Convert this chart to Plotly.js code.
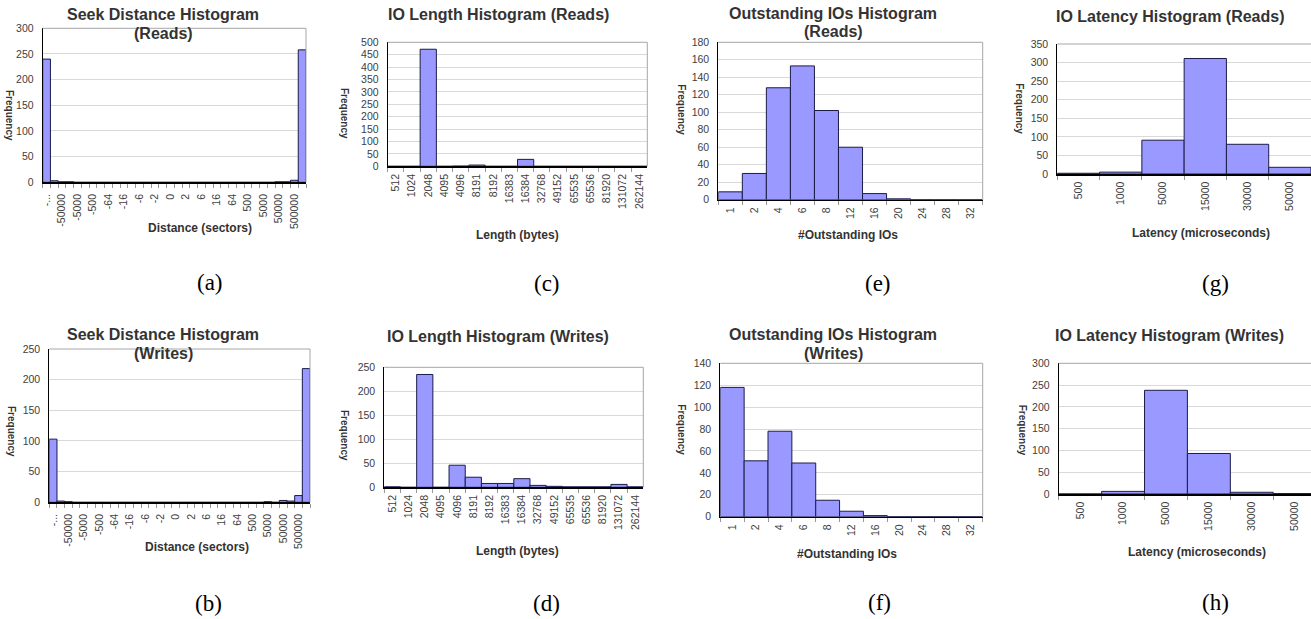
<!DOCTYPE html>
<html><head><meta charset="utf-8">
<script src="https://cdn.plot.ly/plotly-3.0.1.min.js"></script>
<style>html,body{margin:0;padding:0;background:#fff;overflow:hidden}</style>
</head><body><div id="chart" style="width:1311px;height:619px"></div>
<script>
// ---------------- data ----------------
const seekLabels = ["-...", "-50000", "-5000", "-500", "-64", "-16", "-6", "-2", "0", "2", "6", "16", "64", "500", "5000", "50000", "500000"];
const seekReads  = [240,3,1,1, 0,0,0,0,0,0,0,0,0,0, 0,0,0,0,0,0,0,0,0,0, 0,0,0,0,0,0, 1,1,4,258];
const seekWrites = [103,2,1, 0,0,0,0,0,0,0, 0,0,0,0,0,0,0,0,0,0, 0,0,0,0,0,0,0,0, 1,0,3,2,11,218];

const lenLabels = ["512","1024","2048","4095","4096","8191","8192","16383","16384","32768","49152","65535","65536","81920","131072","262144"];
const lenReads  = [0,0,472,0,1,5,0,0,28,0,0,0,0,0,0,0];
const lenWrites = [1,0,235,0,46,21,8,8,18,4,2,1,1,1,6,1];

const outLabels = ["1","2","4","6","8","12","16","20","24","28","32"];
const outReads  = [9,30,128,153,102,60,7,1,0,0,0];
const outWrites = [118,51,78,49,15,5,1,0,0,0,0];

const latLabels = ["500","1000","5000","15000","30000","50000"];
const latReads  = [2,5,91,311,80,18];
const latWrites = [0,6,238,93,4,1];

// ---------------- layout helpers ----------------
const W = 1311, H = 619;
const PX = x => x / W, PY = y => 1 - y / H;

const panels = [
  {id:1, kind:'seek', vals:seekReads,  cats:null, x0:42.7,  x1:306,   y0:28.3,  y1:182.3, ymax:300, dt:50,
   title:["Seek Distance Histogram","(Reads)"], tpos:[[163,15],[163,33.3]], xt:"Distance (sectors)", xtpos:[200,227.7], fpos:[10,115], lab:"(a)", lpos:[210,282]},
  {id:2, kind:'seek', vals:seekWrites, cats:null, x0:49.3,  x1:310,   y0:349,   y1:502.3, ymax:250, dt:50,
   title:["Seek Distance Histogram","(Writes)"], tpos:[[163,334.3],[163,353.3]], xt:"Distance (sectors)", xtpos:[196.7,546.7], fpos:[11.7,431.7], lab:"(b)", lpos:[209,603]},
  {id:3, kind:'cat', vals:lenReads, cats:lenLabels, x0:387.7, x1:647.3, y0:42.3, y1:166.3, ymax:500, dt:50,
   title:["IO Length Histogram (Reads)"], tpos:[[498.3,15]], xt:"Length (bytes)", xtpos:[517.7,235], fpos:[345,113], lab:"(c)", lpos:[546.7,284]},
  {id:4, kind:'cat', vals:lenWrites, cats:lenLabels, x0:384.3, x1:643.3, y0:367.3, y1:487.3, ymax:250, dt:50,
   title:["IO Length Histogram (Writes)"], tpos:[[498.3,336.7]], xt:"Length (bytes)", xtpos:[517.7,550.7], fpos:[345,435], lab:"(d)", lpos:[546.7,603]},
  {id:5, kind:'cat', vals:outReads, cats:outLabels, x0:718.3, x1:982.7, y0:42.3, y1:199.7, ymax:180, dt:20,
   title:["Outstanding IOs Histogram","(Reads)"], tpos:[[833.3,13.3],[833.3,31.7]], xt:"#Outstanding IOs", xtpos:[848.3,235], fpos:[681.7,110], lab:"(e)", lpos:[878.3,284]},
  {id:6, kind:'cat', vals:outWrites, cats:outLabels, x0:720.3, x1:982.7, y0:363.3, y1:516.7, ymax:140, dt:20,
   title:["Outstanding IOs Histogram","(Writes)"], tpos:[[833.3,334],[833.3,353.3]], xt:"#Outstanding IOs", xtpos:[846.7,554.3], fpos:[681.7,430], lab:"(f)", lpos:[880,602]},
  {id:7, kind:'cat', vals:latReads, cats:latLabels, x0:1057.3, x1:1311, y0:44, y1:174, ymax:350, dt:50, xr:[-0.5,5.5], noRight:true,
   title:["IO Latency Histogram (Reads)"], tpos:[[1170,16]], xt:"Latency (microseconds)", xtpos:[1200.7,232.7], fpos:[1020,108.3], lab:"(g)", lpos:[1215,284]},
  {id:8, kind:'cat', vals:latWrites, cats:latLabels, x0:1058.7, x1:1311, y0:363.3, y1:494, ymax:300, dt:50, xr:[-0.5,5.38], noRight:true,
   title:["IO Latency Histogram (Writes)"], tpos:[[1169.3,335]], xt:"Latency (microseconds)", xtpos:[1197.3,551.7], fpos:[1023.3,430], lab:"(h)", lpos:[1215,602]}
];

const FONT = "Liberation Sans, Arial, sans-serif";
const tickFont = {family: FONT, size: 10.5, color: '#404040'};
const traces = [];
const layout = {
  width: W, height: H, autosize: false,
  margin: {l:0, r:0, t:0, b:0},
  paper_bgcolor: '#fff', plot_bgcolor: '#fff',
  showlegend: false, bargap: 0,
  annotations: [], shapes: []
};

panels.forEach(p => {
  const xa = 'xaxis' + (p.id === 1 ? '' : p.id), ya = 'yaxis' + (p.id === 1 ? '' : p.id);
  const xr = 'x' + (p.id === 1 ? '' : p.id), yr = 'y' + (p.id === 1 ? '' : p.id);
  const xs = p.kind === 'seek' ? p.vals.map((v, i) => i) : p.cats;
  traces.push({
    type: 'bar', x: xs, y: p.vals, xaxis: xr, yaxis: yr,
    marker: {color: '#9999ff', line: {color: '#1c1c48', width: 1}},
    hoverinfo: 'x+y'
  });
  const xaxis = {
    domain: [PX(p.x0), PX(p.x1)], anchor: yr,
    showline: true, linecolor: '#000', linewidth: 1.5,
    showgrid: false, zeroline: false,
    tickangle: -90, tickfont: tickFont, ticklabelstandoff: 2,
    fixedrange: true
  };
  if (p.kind === 'seek') {
    const n = p.vals.length;
    Object.assign(xaxis, {
      type: 'linear', range: [-0.5, n - 0.5],
      tickmode: 'array', tickvals: seekLabels.map((_, i) => 2 * i), ticktext: seekLabels,
      ticks: 'outside', ticklen: 4, tickcolor: 'rgba(0,0,0,0)',
      minor: {tickmode: 'linear', tick0: -0.5, dtick: 1, ticks: 'outside', ticklen: 4, tickcolor: '#999', showgrid: false}
    });
  } else {
    Object.assign(xaxis, {
      type: 'category', tickson: 'boundaries', ticks: 'outside', ticklen: 4, tickcolor: '#999',
      range: p.xr || [-0.5, p.cats.length - 0.5]
    });
  }
  layout[xa] = xaxis;
  layout[ya] = {
    domain: [PY(p.y1), PY(p.y0)], anchor: xr,
    range: [0, p.ymax], dtick: p.dt, tick0: 0,
    showline: true, linecolor: '#000', linewidth: 1,
    showgrid: true, gridcolor: '#d9d9d9', gridwidth: 1, zeroline: false,
    ticks: '', ticklabelstandoff: 6, tickfont: tickFont, fixedrange: true
  };
  // top border
  layout.shapes.push({type:'line', xref: xr + ' domain', yref: yr + ' domain', x0:0, x1:1, y0:1, y1:1,
    line:{color:'#a6a6a6', width:1}});
  if (!p.noRight) layout.shapes.push({type:'line', xref: xr + ' domain', yref: yr + ' domain', x0:1, x1:1, y0:0, y1:1,
    line:{color:'#a6a6a6', width:1}});
  // titles
  p.title.forEach((t, k) => layout.annotations.push({
    text: t, xref:'paper', yref:'paper', x: PX(p.tpos[k][0]), y: PY(p.tpos[k][1]),
    xanchor:'center', yanchor:'middle', showarrow:false,
    font:{family: FONT, size: 16, color:'#333', weight:'bold'}
  }));
  layout.annotations.push({
    text: p.xt, xref:'paper', yref:'paper', x: PX(p.xtpos[0]), y: PY(p.xtpos[1]),
    xanchor:'center', yanchor:'middle', showarrow:false,
    font:{family: FONT, size: 12, color:'#333', weight:'bold'}
  });
  layout.annotations.push({
    text: 'Frequency', xref:'paper', yref:'paper', x: PX(p.fpos[0]), y: PY(p.fpos[1]),
    xanchor:'center', yanchor:'middle', showarrow:false, textangle: 90,
    font:{family: FONT, size: 10, color:'#333', weight:'bold'}
  });
  layout.annotations.push({
    text: p.lab, xref:'paper', yref:'paper', x: PX(p.lpos[0]), y: PY(p.lpos[1]),
    xanchor:'center', yanchor:'middle', showarrow:false,
    font:{family: "Liberation Serif, 'Times New Roman', serif", size: 23, color:'#000'}
  });
});

Plotly.newPlot('chart', traces, layout, {displayModeBar: false, staticPlot: true});
</script>
</body></html>
